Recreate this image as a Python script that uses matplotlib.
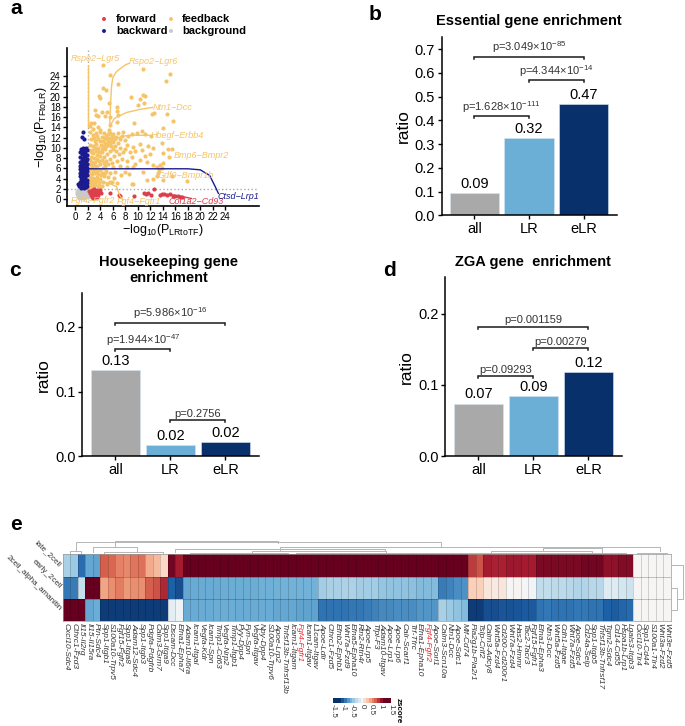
import matplotlib
matplotlib.use("Agg")
from matplotlib import pyplot as plt
from matplotlib.colors import LinearSegmentedColormap
import numpy as np

plt.rcParams['font.family'] = ['Liberation Sans', 'DejaVu Sans']
plt.rcParams['mathtext.fontset'] = 'custom'
plt.rcParams['mathtext.rm'] = 'Liberation Sans'
plt.rcParams['mathtext.it'] = 'Liberation Sans:italic'
plt.rcParams['mathtext.bf'] = 'Liberation Sans:bold'
plt.rcParams['mathtext.default'] = 'regular'
plt.rcParams['axes.unicode_minus'] = True

W, H = 685.0, 726.0

# panel a points (x = -log10 P_LRtoTF, y = -log10 P_TFtoLR)
feedback_points = [
    (4.5, 26.2), (10.9, 25.3), (15.1, 24.5), (14.5, 23.0), (5.5, 24.2), (6.9, 22.4), (4.5, 21.7), (4.9, 21.3),
    (3.8, 20.2), (8.9, 19.9), (10.9, 20.4), (11.2, 20.2), (10.3, 19.6), (3.9, 19.8), (11.0, 18.8), (10.1, 18.4),
    (6.7, 17.9), (5.4, 18.7), (3.1, 17.4), (4.2, 17.0), (5.1, 17.0), (6.7, 17.1), (3.3, 16.4), (3.7, 16.2),
    (4.8, 16.2), (5.5, 16.1), (6.8, 16.4), (12.2, 16.6), (12.6, 16.8), (14.6, 16.7), (15.7, 15.2), (9.4, 14.9),
    (6.7, 15.1), (2.5, 14.8), (3.0, 14.9), (2.3, 14.2), (3.6, 14.0), (3.9, 13.4), (5.5, 14.5), (5.4, 13.5),
    (14.1, 13.8), (10.7, 13.2), (9.9, 12.9), (9.1, 12.7), (7.5, 12.3), (6.5, 12.2),
    (4.6, 12.9), (4.9, 12.3), (5.2, 12.6), (5.5, 12.9), (5.8, 12.4), (6.1, 12.7), (5.0, 11.7), (5.4, 11.9),
    (5.7, 11.6), (6.0, 11.9), (6.4, 11.8), (4.4, 11.3), (4.8, 11.0), (5.2, 11.2), (5.6, 11.0), (6.1, 11.2),
    (4.1, 10.6), (4.5, 10.3), (4.9, 10.4), (5.3, 10.5), (3.7, 10.0), (4.2, 9.8), (4.7, 9.7), (3.3, 9.4),
    (3.8, 9.1), (4.3, 9.2), (2.9, 8.9), (3.4, 8.6), (3.9, 8.4), (2.5, 8.3), (3.0, 8.0), (3.5, 7.8),
    (2.3, 7.6), (2.7, 7.2), (3.2, 7.3), (2.3, 13.0), (2.9, 12.5), (3.5, 12.4), (4.0, 13.1), (2.5, 11.7),
    (3.1, 11.3), (3.7, 11.7), (2.3, 10.6), (2.8, 10.4), (3.3, 10.8), (2.2, 9.6), (2.7, 9.6),
    (2.2, 6.8), (2.6, 6.4), (3.0, 6.7), (3.5, 6.5), (4.0, 6.9), (2.3, 5.9), (2.8, 5.6), (3.3, 5.9),
    (3.9, 5.7), (4.4, 6.1), (2.2, 5.1), (2.7, 4.9), (3.2, 5.0), (3.7, 4.8), (4.3, 5.0), (4.9, 5.4),
    (2.4, 4.3), (2.9, 4.1), (3.4, 4.2), (4.0, 4.0), (4.6, 4.4), (2.3, 3.5), (2.8, 3.3), (3.3, 3.5),
    (3.8, 3.2), (4.4, 3.4), (2.5, 2.7), (3.0, 2.6), (3.6, 2.5), (4.2, 2.6), (5.0, 3.0), (2.2, 2.2),
    (2.8, 2.1), (5.5, 3.3), (4.6, 8.2), (5.1, 8.7), (5.5, 9.3), (6.0, 9.8), (6.5, 9.4), (7.2, 10.0),
    (4.9, 7.5), (5.6, 7.9), (6.2, 8.4), (7.0, 8.7), (7.6, 9.1), (5.2, 6.8), (5.9, 7.0), (6.6, 7.4),
    (7.4, 7.8), (6.1, 6.2), (7.1, 6.5), (5.5, 5.0), (6.4, 5.2), (7.3, 4.7), (7.9, 5.3), (8.2, 6.3),
    (8.6, 4.9), (9.0, 3.0), (6.2, 4.1), (8.0, 11.5), (8.5, 12.4), (11.2, 12.7), (12.1, 12.3), (8.2, 10.6),
    (9.3, 10.2), (10.3, 10.8), (11.6, 10.3), (12.5, 9.9), (7.9, 9.7), (8.7, 9.1), (9.6, 9.3), (10.6, 9.6),
    (11.1, 8.4), (12.0, 8.8), (9.0, 8.2), (10.3, 7.6), (11.4, 7.2), (12.4, 6.6), (13.0, 6.3), (8.3, 7.4),
    (9.6, 6.8), (7.2, 11.7), (7.6, 13.1), (13.8, 11.0), (14.8, 9.7), (15.4, 9.7), (14.1, 8.9), (15.0, 8.3),
    (13.6, 6.7), (14.1, 7.0), (13.8, 6.0), (13.4, 5.7), (13.2, 5.0), (13.0, 4.4), (14.1, 3.7), (11.4, 3.7),
    (17.8, 3.5), (15.4, 4.4), (9.3, 2.9), (9.3, 6.3), (10.9, 5.3), (12.5, 4.0),
    (2.5, 9.2), (3.1, 9.9), (3.6, 9.4), (2.4, 6.9), (3.3, 6.3), (2.9, 5.2), (3.5, 5.4), (2.6, 3.8),
    (3.1, 3.9), (3.6, 3.8), (4.1, 4.6), (2.6, 3.1), (3.2, 3.0), (4.7, 6.5), (4.6, 7.1), (3.8, 7.4),
    (4.2, 7.7), (3.0, 12.0), (3.3, 12.9), (4.2, 12.2), (4.0, 11.4), (4.7, 12.0), (5.7, 10.4), (6.3, 10.4),
    (6.8, 11.0), (6.9, 12.8), (2.9, 13.6), (4.7, 5.0), (5.3, 4.2), (5.9, 3.4), (6.6, 3.2), (3.9, 2.4),
]
backward_points = [
    (1.3, 13.1), (1.0, 12.2), (1.4, 11.8), (1.2, 10.0), (1.7, 10.0), (0.9, 9.7), (1.4, 9.6), (1.8, 9.5),
    (0.8, 9.1), (1.2, 9.1), (1.6, 9.0), (1.0, 8.7), (1.4, 8.5), (1.8, 8.5), (0.8, 8.3), (1.2, 8.1),
    (1.6, 8.0), (1.9, 7.9), (1.0, 7.7), (1.4, 7.5), (1.7, 7.4), (0.8, 7.2), (1.2, 7.1), (1.6, 7.0),
    (1.9, 6.9), (0.9, 6.8), (1.3, 6.6), (1.7, 6.5), (0.7, 6.4), (1.1, 6.2), (1.5, 6.1), (1.9, 6.1),
    (0.8, 5.9), (1.2, 5.7), (1.6, 5.6), (1.9, 5.5), (0.9, 5.4), (1.3, 5.2), (1.7, 5.1), (0.7, 5.0),
    (1.1, 4.8), (1.5, 4.7), (1.9, 4.6), (0.8, 4.5), (1.2, 4.3), (1.6, 4.2), (0.9, 4.0), (1.4, 3.9),
    (1.8, 3.8), (1.1, 3.6), (1.6, 3.4), (0.7, 3.3), (1.3, 3.2), (1.8, 3.1), (0.4, 2.9), (0.9, 2.8),
    (1.5, 2.7), (1.9, 2.6), (0.6, 2.5), (1.2, 2.4), (1.7, 2.3), (0.9, 2.2), (1.4, 2.1),
]
background_points = [
    (0.4, 1.8), (0.9, 1.7), (1.3, 1.8), (1.8, 1.7), (0.3, 1.3), (0.7, 1.4), (1.1, 1.3), (1.5, 1.4),
    (1.9, 1.2), (0.2, 0.9), (0.6, 0.9), (1.0, 0.9), (1.4, 0.9), (1.8, 0.8), (0.4, 0.5), (0.8, 0.5),
    (1.2, 0.5), (1.6, 0.5), (0.6, 0.2), (1.0, 0.2), (1.4, 0.2), (2.0, 0.4),
]
forward_points = [
    (2.2, 1.6), (2.6, 1.8), (3.0, 1.9), (3.5, 1.7), (4.0, 1.7), (2.4, 1.2), (2.8, 1.3), (3.2, 1.4),
    (3.6, 1.2), (4.1, 1.1), (2.5, 0.8), (2.9, 0.9), (3.3, 0.8), (3.7, 0.7), (2.7, 0.4), (3.1, 0.4),
    (3.5, 0.3), (2.9, 0.1), (5.5, 1.2), (7.0, 0.8), (7.2, 0.6), (9.4, 0.6), (11.0, 1.1), (11.3, 1.0),
    (11.7, 1.1), (12.1, 0.8), (12.6, 1.9), (13.6, 0.7), (13.9, 0.9), (14.2, 1.0), (14.6, 0.8), (15.2, 0.9),
    (15.6, 0.6), (16.0, 0.6), (16.4, 0.5), (16.8, 0.4), (17.0, 0.3),
]

# connector lines of the gene pair labels in panel a
lgr5_x = [2.1, 2.1]
lgr5_y = [26.0, 14.0]
lgr6_x = [5.5, 5.7, 5.8, 6.0, 6.6, 8.0, 8.6]
lgr6_y = [14.2, 20.0, 22.0, 23.7, 24.9, 26.2, 26.5]
dcc_x = [5.5, 6.3, 8.2, 10.3, 12.4]
dcc_y = [14.2, 15.8, 16.9, 17.5, 17.9]
erbb4_x = [5.0, 5.8, 7.7, 9.3, 11.9]
erbb4_y = [10.3, 11.5, 12.3, 12.45, 12.45]
fgfr1_x = [4.0, 5.4, 6.6, 7.1, 7.6]
fgfr1_y = [3.4, 3.1, 2.4, 0.7, -0.2]
lrp1_x = [1.3, 10.0, 18.0, 20.0, 21.5, 22.4, 22.9]
lrp1_y = [5.9, 5.9, 5.9, 5.7, 4.6, 2.4, 1.1]
cd93_x = [13.6, 15.0, 17.0, 18.6]
cd93_y = [0.8, 0.9, 0.5, 0.1]

# panels b, c, d
bar_names = ['all', 'LR', 'eLR']
essential_ratio = [0.094, 0.325, 0.47]
essential_text = ['0.09', '0.32', '0.47']
housekeeping_ratio = [0.134, 0.018, 0.022]
housekeeping_text = ['0.13', '0.02', '0.02']
zga_ratio = [0.074, 0.085, 0.118]
zga_text = ['0.07', '0.09', '0.12']

essential_p = [(0, 1, 0.417, r'p=1.628×10$^{-111}$'), (1, 2, 0.569, r'p=4.344×10$^{-14}$'), (0, 2, 0.667, r'p=3.049×10$^{-85}$')]
housekeeping_p = [(0, 1, 0.166, r'p=1.944×10$^{-47}$'), (1, 2, 0.056, 'p=0.2756'), (0, 2, 0.2065, r'p=5.986×10$^{-16}$')]
zga_p = [(0, 1, 0.1126, 'p=0.09293'), (1, 2, 0.152, 'p=0.00279'), (0, 2, 0.182, 'p=0.001159')]

# panel e
pair_names = [
    'Cxcl10-Sdc4', 'Cthrc1-Fzd3', 'Il15-Il2rg', 'Il15-Il15ra', 'Ptn-Sdc4', 'Spp1-Itgb1', 'S100a10-Trpv5', 'Fgf15-Fgfr2',
    'Spp1-Itga8', 'Adam12-Sdc4', 'Spp1-Itgb3', 'Pdgfa-Pdgfrb', 'Calm3-Grm7', 'Spp1-Itga9', 'Dscam-Dcc', 'Efna1-Epha7',
    'Adam10-Il6ra', 'Icam1-Itgal', 'Vegfa-Kdr', 'Icam1-Spn', 'Timp1-Cd63', 'Vegfa-Nrp2', 'Timp1-Itgb1', 'Pyy-Dpp4',
    'Fyn-Spn', 'Vegfa-Itgav', 'Npy-Dpp4', 'S100a10-Trpv6', 'Apoe-Lrp2', 'Tnfsf13b-Tnfrsf13b', 'Icam1-Itgam', 'Fgf4-Fgfr1',
    'Icam1-Itgav', 'L1cam-Itgav', 'Apoe-Ldlr', 'Cthrc1-Fzd5', 'Efnb2-Ephb1', 'Wnt7a-Fzd9', 'Efna5-Epha10', 'Rtn2-Rtn4r',
    'Apoe-Lrp5', 'Tfpi-F3', 'Adam10-Itgav', 'Apoe-Lrp1', 'Apoe-Lrp6', 'Calr-Scarf1', 'Trf-Tfrc', 'Efna1-Epha10',
    'Fgf4-Fgfr2', 'Apoe-Sorl1', 'Calm3-Scn10a', 'Ntn1-Dcc', 'Apoe-Sdc1', 'Mif-Cd74', 'Pla2g1b-Pla2r1', 'Tslp-Crlf2',
    'Calm3-Adcy8', 'Wnt5a-Fzd4', 'Cd200-Cd200r1', 'Wnt7a-Fzd4', 'Has2-Hmmr', 'Tac2-Tacr3', 'Fgf15-Fgfr1', 'Efna1-Epha3',
    'Ntn3-Dcc', 'Wnt5a-Fzd5', 'Cdh1-Itgae', 'Wnt7a-Fzd5', 'Apoe-Sdc4', 'Cd24a-Selp', 'Spp1-Itgb5', 'Tnfsf13b-Tnfrsf17',
    'Tgm2-Sdc4', 'Cd14-Cd55', 'Hspa1b-Lrp1', 'Lgals3-Itgb3', 'Cxcl10-Tlr4', 'Spp1-Cd44', 'S100a1-Tlr4', 'Wnt3a-Fzd2',
    'Wnt3e-Fzd5',
]
highlighted_pairs = ['Fgf4-Fgfr1', 'Fgf4-Fgfr2']
stage_names = ['late_2cell', 'early_2cell', '2cell_alpha_amanitin']

late_2cell = [
    -0.40, -0.45, -0.95, -0.68, -0.70, 0.75, 0.72, 0.60, 0.58, 0.66, 0.68, 0.42, 0.36, 0.20, 1.12, 1.00,
    1.15, 1.15, 1.15, 1.15, 1.15, 1.15, 1.15, 1.15, 1.15, 1.15, 1.15, 1.15, 1.15, 1.15, 1.15, 1.15,
    1.15, 1.15, 1.15, 1.15, 1.15, 1.15, 1.15, 1.15, 1.15, 1.15, 1.15, 1.15, 1.15, 1.15, 1.15, 1.15,
    1.15, 1.15, 1.15, 1.15, 1.15, 1.15, 0.88, 0.80, 1.00, 0.98, 0.98, 1.02, 1.02, 1.00, 1.00, 1.10,
    1.10, 1.10, 1.10, 1.10, 1.10, 1.12, 1.12, 1.12, 1.05, 1.05, 1.08, 1.08, 0.02, 0.02, 0.02, 0.02,
    0.02,
]
early_2cell = [
    -0.90, -0.88, -0.25, 1.15, 1.15, 0.45, 0.55, 0.62, 0.50, 0.55, 0.55, 0.75, 0.80, 0.95, -1.00, -1.08,
    -0.68, -0.66, -0.66, -0.66, -0.66, -0.65, -0.65, -0.65, -0.65, -0.65, -0.64, -0.64, -0.63, -0.62, -0.62, -0.62,
    -0.62, -0.62, -0.42, -0.40, -0.40, -0.38, -0.38, -0.42, -0.42, -0.42, -0.48, -0.50, -0.50, -0.50, -0.52, -0.55,
    -0.55, -0.55, -0.88, -0.85, -0.80, -0.78, 0.25, 0.25, 0.12, 0.08, 0.12, 0.02, 0.03, -0.02, -0.03, -0.28,
    -0.28, -0.30, -0.30, -0.32, -0.36, -0.36, -0.32, -0.32, -0.12, -0.12, -0.18, -0.20, 0.02, 0.02, 0.02, 0.02,
    0.02,
]
alpha_amanitin = [
    1.15, 1.15, 1.15, -0.68, -0.65, -1.15, -1.15, -1.15, -1.15, -1.15, -1.15, -1.15, -1.15, -1.15, -0.10, -0.04,
    -0.66, -0.66, -0.66, -0.66, -0.65, -0.65, -0.65, -0.66, -0.66, -0.66, -0.66, -0.66, -0.68, -0.68, -0.68, -0.70,
    -0.70, -0.70, -0.92, -0.92, -0.92, -0.92, -0.90, -0.90, -0.88, -0.86, -0.82, -0.82, -0.80, -0.80, -0.80, -0.76,
    -0.76, -0.76, -0.40, -0.45, -0.50, -0.55, -1.15, -1.15, -1.08, -1.08, -1.05, -1.06, -1.05, -1.03, -1.03, -0.92,
    -0.90, -0.92, -0.92, -0.92, -0.90, -0.90, -0.92, -0.92, -1.00, -1.02, -0.98, -0.96, 0.02, 0.02, 0.02, 0.02,
    0.02,
]

# dendrogram links: left col, right col, height, height below left, height below right
column_links = [
    (1.8, 50.4, 12.5, 3.6, 7.0), (7.0, 28.7, 13.0, 7.0, 11.5), (1.0, 2.5, 3.6, 0.6, 0.8), (4.0, 9.9, 7.0, 2.0, 3.0),
    (5.5, 13.4, 2.5, 1.0, 1.0), (15.0, 42.9, 5.3, 2.3, 3.5), (29.0, 79.5, 7.0, 4.0, 3.5), (25.2, 43.0, 3.5, 1.0, 1.0),
    (57.0, 70.5, 3.5, 1.0, 1.0), (64.0, 71.8, 6.7, 3.5, 1.5), (17.0, 30.0, 1.0, 0.2, 0.2), (31.0, 42.0, 1.2, 0.2, 0.2),
    (42.0, 53.0, 1.0, 0.2, 0.2), (53.0, 62.0, 1.0, 0.2, 0.2), (62.0, 75.0, 1.0, 0.2, 0.2), (76.5, 80.5, 1.0, 0.2, 0.2),
    (20.0, 26.0, 1.5, 0.4, 0.4), (33.0, 39.0, 1.8, 0.4, 0.4), (46.0, 51.0, 1.4, 0.4, 0.4), (58.0, 61.0, 1.6, 0.4, 0.4),
]
# right dendrogram: lower row, upper row, height of merge, height below each side
row_links = [(0.5, 2.0, 12.0, 0.0, 6.0), (1.5, 2.5, 6.0, 0.0, 0.0)]

colorbar_ticks = [-1.5, -1, -0.5, 0, 0.5, 1, 1.5]

# colour stops read from the key and cells, position in 0..1 -> colour
color_stops = [0.0, 0.085, 0.234, 0.340, 0.511, 0.617, 0.723, 0.830, 0.936, 1.0]
color_codes = ['#08306B', '#1F62A8', '#6BAED6', '#A9D0E6', '#F7F7F7', '#FBD0B9', '#EE9A78', '#D6604D', '#A51C30', '#67001F']
heat_cmap = LinearSegmentedColormap.from_list('zscore', list(zip(color_stops, color_codes)))

fig = plt.figure(figsize=(6.85, 7.26), dpi=100)


def make_axes(left, top, right, bottom):
    return fig.add_axes([left / W, 1 - bottom / H, (right - left) / W, (bottom - top) / H])


def put_text(x, y, s, **kw):
    kw.setdefault('ha', 'center')
    kw.setdefault('va', 'center')
    fig.text(x / W, 1 - y / H, s, **kw)


YELLOW = '#F5C469'
NAVY = '#1B1B8F'
RED = '#DC3F4B'
GREY = '#C9C9C9'

# --- a ---
ax = make_axes(67, 48, 259, 206)
for pts, col in [(background_points, GREY), (feedback_points, YELLOW), (backward_points, NAVY), (forward_points, RED)]:
    ax.scatter([p[0] for p in pts], [p[1] for p in pts], s=9, color=col, linewidths=0, zorder=3)
ax.axvline(2, color='#AAAAAA', ls=':', lw=1.0, zorder=2)
ax.axhline(2, color='#AAAAAA', ls=':', lw=1.0, zorder=2)
for cx, cy in [(lgr5_x, lgr5_y), (lgr6_x, lgr6_y), (dcc_x, dcc_y), (erbb4_x, erbb4_y), (fgfr1_x, fgfr1_y)]:
    ax.plot(cx, cy, color=YELLOW, lw=1.0, zorder=4)
ax.plot(lrp1_x, lrp1_y, color=NAVY, lw=1.0, zorder=4)
ax.plot(cd93_x, cd93_y, color=RED, lw=1.0, zorder=4)
ax.set_xlim(-1.33, 29.4)
ax.set_ylim(-1.37, 29.5)
ax.set_xticks(range(0, 25, 2))
ax.set_yticks(range(0, 25, 2))
ax.tick_params(labelsize=7, length=3, width=1.0, pad=1.5)
for s in ['top', 'right']:
    ax.spines[s].set_visible(False)
for s in ['left', 'bottom']:
    ax.spines[s].set_linewidth(1.2)
put_text(163, 230, r'$-log_{10}(P_{LRtoTF})$', fontsize=9)
put_text(41, 127, r'$-log_{10}(P_{TFtoLR})$', fontsize=9, rotation=90)

pair_font = dict(fontsize=6.5, style='italic')
put_text(95, 58.5, 'Rspo2\u2212Lgr5', color=YELLOW, **pair_font)
put_text(153, 61, 'Rspo2\u2212Lgr6', color=YELLOW, **pair_font)
put_text(173, 107.5, 'Ntn1\u2212Dcc', color=YELLOW, **pair_font)
put_text(177, 135, 'Hbegf\u2212Erbb4', color=YELLOW, **pair_font)
put_text(201, 155.5, 'Bmp6\u2212Bmpr2', color=YELLOW, **pair_font)
put_text(186, 176, 'Gdf9\u2212Bmpr1b', color=YELLOW, **pair_font)
put_text(93, 200.5, 'Fgf4\u2212Fgfr2', color=YELLOW, **pair_font)
put_text(139, 201.5, 'Fgf4\u2212Fgfr1', color=YELLOW, **pair_font)
put_text(196, 201.5, 'Col1a2\u2212Cd93', color=RED, **pair_font)
put_text(238, 196.5, 'Ctsd\u2212Lrp1', color=NAVY, **pair_font)

# legend of a, drawn by hand as in the figure
legend_ax = make_axes(90, 10, 250, 40)
legend_ax.set_xlim(90, 250)
legend_ax.set_ylim(40, 10)
legend_ax.axis('off')
legend_ax.scatter([104, 104, 171, 171], [19, 31, 19, 31], s=8, color=[RED, NAVY, YELLOW, GREY], linewidths=0)
legend_font = dict(fontsize=8, fontweight='bold', ha='left')
put_text(116, 19, 'forward', **legend_font)
put_text(116, 31.5, 'backward', **legend_font)
put_text(182, 19, 'feedback', **legend_font)
put_text(182, 31.5, 'background', **legend_font)


def draw_bars(ax, ratio, text, brackets, xlim, ylim, yticks, ytick_text):
    colors = ['#A9A9A9', '#6BAED6', '#08306B']
    xs = np.arange(3)
    ax.bar(xs, ratio, width=0.9, color=colors, edgecolor='#D6E6F2', linewidth=0.4)
    for x, r, t in zip(xs, ratio, text):
        ax.annotate(t, (x, r), xytext=(0, 1.5), textcoords='offset points', ha='center', va='bottom', fontsize=10.5)
    tip = (ylim[1] - ylim[0]) * 0.012
    for a, b, y, label in brackets:
        ax.plot([a, a, b, b], [y - tip, y, y, y - tip], color='#1A1A1A', lw=1.1, solid_joinstyle='miter')
        ax.annotate(label, ((a + b) / 2, y), xytext=(0, 1), textcoords='offset points', ha='center', va='bottom',
                    fontsize=8, color='#333333')
    ax.set_xlim(*xlim)
    ax.set_ylim(*ylim)
    ax.set_xticks(xs)
    ax.set_xticklabels(bar_names)
    ax.set_yticks(yticks)
    ax.set_yticklabels(ytick_text)
    ax.tick_params(labelsize=10.5, length=3.2, width=1.0, pad=1.5)
    ax.set_ylabel('ratio', fontsize=12.5, labelpad=3)
    for s in ['top', 'right']:
        ax.spines[s].set_visible(False)
    for s in ['left', 'bottom']:
        ax.spines[s].set_linewidth(1.1)


# --- b ---
draw_bars(make_axes(441.7, 36.7, 616.7, 215.3), essential_ratio, essential_text, essential_p, (-0.596, 2.6), (0, 0.752),
          [0, 0.1, 0.2, 0.3, 0.4, 0.5, 0.6, 0.7], ['0.0', '0.1', '0.2', '0.3', '0.4', '0.5', '0.6', '0.7'])
put_text(529, 20.7, 'Essential gene enrichment', fontsize=10.5, fontweight='bold')

# --- c ---
draw_bars(make_axes(82, 293.3, 259, 456.3), housekeeping_ratio, housekeeping_text, housekeeping_p, (-0.607, 2.61), (0, 0.252),
          [0, 0.1, 0.2], ['0.0', '0.1', '0.2'])
put_text(168.7, 270, 'Housekeeping gene\nenrichment', fontsize=10.5, fontweight='bold', linespacing=1.15)

# --- d ---
draw_bars(make_axes(445.4, 277.3, 622, 456.3), zga_ratio, zga_text, zga_p, (-0.6, 2.61), (0, 0.251),
          [0, 0.1, 0.2], ['0.0', '0.1', '0.2'])
put_text(533, 261.7, 'ZGA gene  enrichment', fontsize=10.5, fontweight='bold')

# --- e ---
heat_ax = make_axes(62.7, 554.3, 671, 621.3)
heat = np.array([late_2cell, early_2cell, alpha_amanitin])
heat_ax.pcolormesh(heat, cmap=heat_cmap, vmin=-1.2, vmax=1.15)
# cell borders darken whatever colour lies under them
heat_ax.vlines(np.arange(1, len(pair_names)), 0, 3, color='black', alpha=0.22, lw=0.5)
heat_ax.hlines([1, 2], 0, len(pair_names), color='black', alpha=0.3, lw=0.5)
heat_ax.set_ylim(3, 0)
heat_ax.set_xlim(0, len(pair_names))
heat_ax.set_xticks(np.arange(len(pair_names)) + 0.5)
heat_ax.set_xticklabels(pair_names, rotation=-90, fontsize=6, style='italic', color='#333333', ha='center', va='top')
for lab in heat_ax.get_xticklabels():
    if lab.get_text() in highlighted_pairs:
        lab.set_color('#F0202A')
heat_ax.set_yticks([])
heat_ax.tick_params(length=0, pad=1.5)
for s in heat_ax.spines.values():
    s.set_edgecolor('#999999')
    s.set_linewidth(0.5)
for i, name in enumerate(stage_names):
    heat_ax.annotate(name, (0, i + 0.5), xytext=(-2, 0), textcoords='offset points', rotation=-45, rotation_mode='anchor',
                     ha='right', va='center', fontsize=5.8, color='#333333', annotation_clip=False)

top_ax = make_axes(62.7, 538.3, 671, 554.3)
top_ax.set_xlim(0, len(pair_names))
top_ax.set_ylim(0, 16)
top_ax.axis('off')
for a, b, h, ha, hb in column_links:
    top_ax.plot([a, a, b, b], [ha, h, h, hb], color='#B5B5B5', lw=0.7)

side_ax = make_axes(671, 554.3, 685, 621.3)
side_ax.set_ylim(3, 0)
side_ax.set_xlim(0, 14)
side_ax.axis('off')
for a, b, h, ha, hb in row_links:
    side_ax.plot([ha, h, h, hb], [a, a, b, b], color='#B5B5B5', lw=0.7)

# colour key
key_ax = make_axes(333, 698, 391, 703)
key_ax.imshow(np.linspace(colorbar_ticks[0], colorbar_ticks[-1], 21)[None, :], cmap=heat_cmap, vmin=-1.2, vmax=1.15,
              aspect='auto', extent=[-1.5, 1.5, 0, 1], interpolation='nearest')
key_ax.set_xticks(colorbar_ticks)
key_ax.set_xticklabels([str(t) for t in colorbar_ticks], rotation=-90, fontsize=5.8, color='#333333')
key_ax.set_yticks([])
key_ax.tick_params(length=0, pad=1)
for s in key_ax.spines.values():
    s.set_visible(False)
put_text(398.5, 698, 'zscore', fontsize=5.8, fontweight='bold', rotation=-90, va='top')

# panel letters
for letter, x, y in [('a', 16, 8), ('b', 375, 14), ('c', 15.4, 270), ('d', 390, 270), ('e', 16, 525)]:
    put_text(x, y, letter, fontsize=15, fontweight='bold')

fig.savefig('out.png', dpi=100)
